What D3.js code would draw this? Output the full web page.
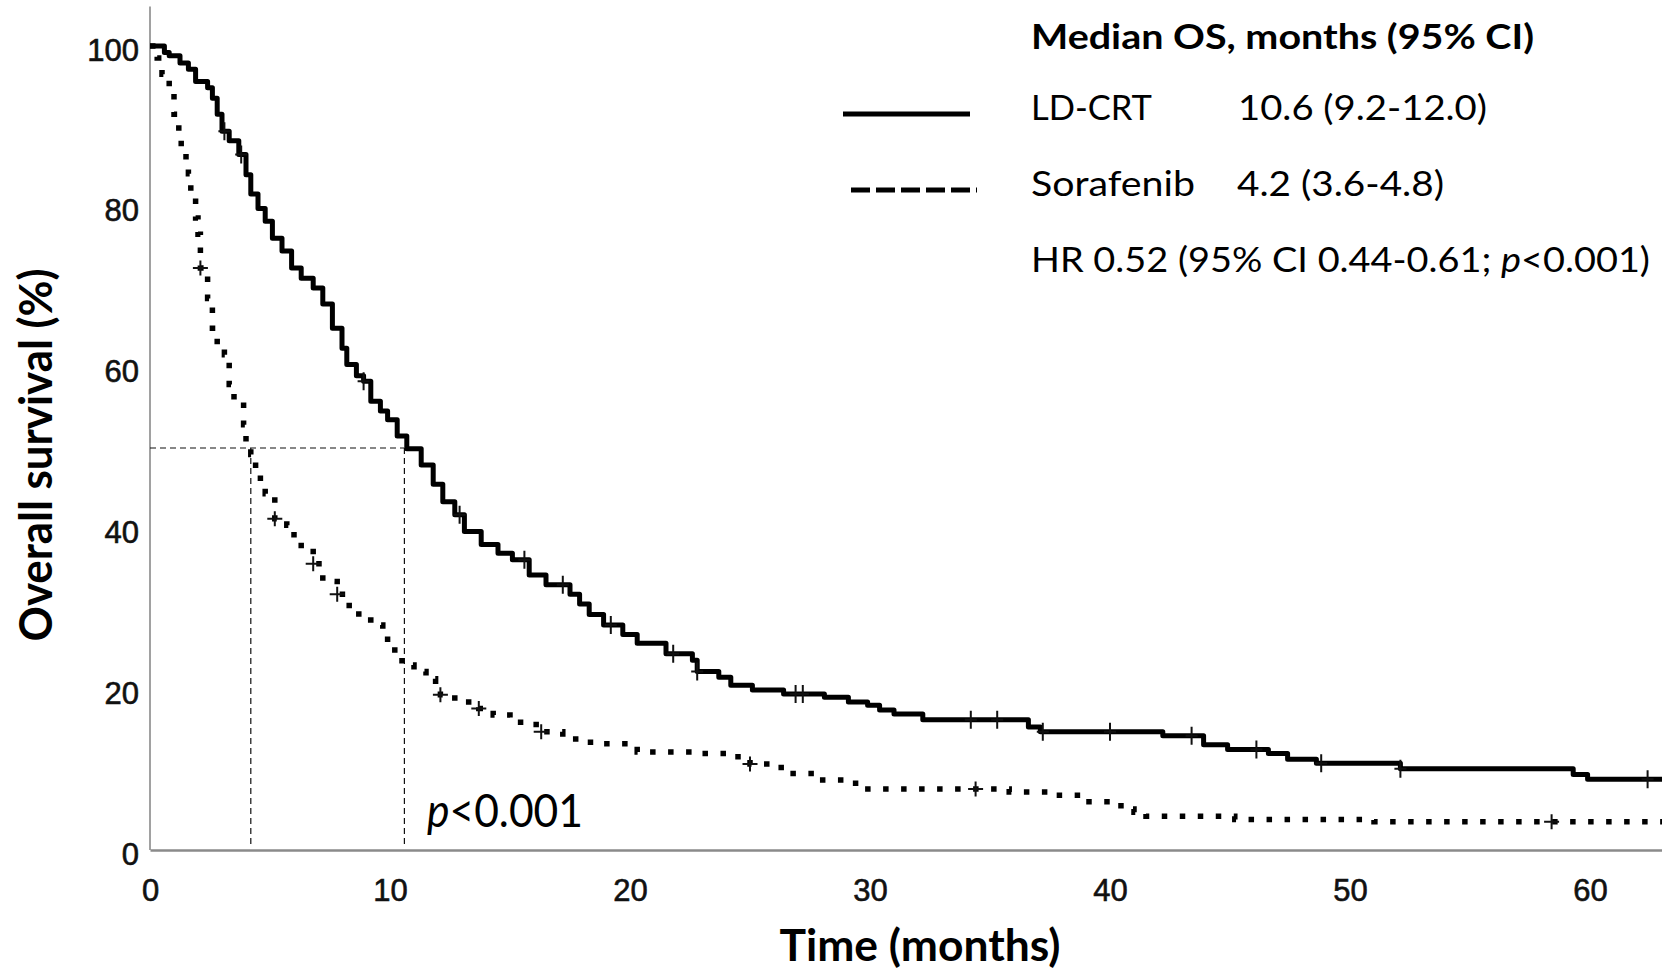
<!DOCTYPE html>
<html>
<head>
<meta charset="utf-8">
<script src="https://cdn.jsdelivr.net/npm/d3@7"></script>
<style>
  body { margin: 0; background: #fff; }
  svg { display: block; }
</style>
</head>
<body>
<div id="chart"></div>
<script>
// Kaplan-Meier steps (time in months, survival in %)
var ldcrtTime = [0, 0.6, 0.8, 1.25, 1.6, 1.9, 2.4, 2.6, 2.8, 3.0, 3.3, 3.7, 4.0, 4.2, 4.5, 4.8, 5.1, 5.5, 5.9, 6.3,
  6.8, 7.2, 7.6, 8.0, 8.2, 8.6, 8.9, 9.2, 9.6, 9.9, 10.3, 10.7, 11.3, 11.8, 12.2, 12.7, 13.1, 13.8, 14.5, 15.1,
  15.8, 16.5, 17.5, 17.9, 18.3, 18.9, 19.7, 20.3, 21.5, 22.6, 22.8, 23.7, 24.2, 25.1, 26.4, 28.1, 29.1, 29.9, 30.4, 31.0,
  32.2, 36.6, 37.1, 42.2, 43.9, 44.9, 46.6, 47.4, 48.6, 52.1, 59.3, 59.9, 63];
var ldcrtSurv = [100, 99.2, 98.8, 97.9, 97.1, 95.6, 94.8, 93.5, 91.5, 89.4, 88.2, 86.5, 84.0, 81.6, 79.8, 78.2, 76.1, 74.5, 72.4, 71.1,
  69.9, 67.9, 64.9, 62.4, 60.4, 59.0, 58.3, 55.8, 54.6, 53.5, 51.5, 49.9, 47.9, 45.5, 43.3, 41.7, 39.6, 38.0, 36.9, 36.1,
  34.2, 33.0, 31.8, 30.6, 29.3, 28.0, 26.8, 25.7, 24.4, 23.6, 22.2, 21.5, 20.5, 19.9, 19.4, 19.0, 18.4, 18.0, 17.4, 16.9,
  16.2, 15.3, 14.7, 14.2, 13.1, 12.5, 12.0, 11.3, 10.8, 10.1, 9.4, 8.8, 8.8];

var soraTime = [0, 0.3, 0.5, 0.8, 1.0, 1.2, 1.3, 1.5, 1.6, 1.7, 1.9, 2.0, 2.1, 2.4, 2.6, 2.8, 3.1, 3.3, 3.5, 3.9,
  4.0, 4.2, 4.4, 4.6, 4.8, 5.2, 5.7, 6.0, 6.3, 6.8, 7.2, 7.8, 8.3, 8.7, 9.2, 9.7, 9.9, 10.2, 10.5, 11.0,
  11.5, 11.9, 12.1, 12.7, 13.7, 14.3, 15.0, 15.6, 16.3, 17.2, 18.2, 18.6, 20.3, 23.0, 24.0, 25.0, 26.3, 27.8, 29.4, 35.8,
  37.4, 39.0, 40.0, 40.6, 41.0, 41.5, 45.2, 51.0, 63];
var soraSurv = [100, 98.5, 96.5, 94.8, 91.5, 89.4, 87.3, 85.7, 84.1, 81.6, 78.6, 76.6, 72.4, 68.6, 64.9, 62.8, 61.6, 57.9, 55.8, 52.9,
  50.8, 49.2, 47.4, 45.8, 44.3, 41.2, 40.4, 38.7, 37.5, 35.6, 33.4, 31.8, 30.0, 28.6, 28.0, 27.4, 25.7, 24.4, 23.0, 22.2,
  21.3, 20.0, 19.3, 18.4, 17.6, 16.8, 15.9, 15.6, 14.7, 13.8, 13.4, 13.2, 12.2, 12.0, 11.6, 10.7, 9.5, 8.7, 7.6, 7.2,
  6.8, 6.0, 5.5, 5.1, 4.7, 4.2, 3.8, 3.5, 3.5];

// censored observations (months)
var ldcrtCensor = [3.1, 3.8, 8.9, 12.9, 15.6, 17.2, 19.2, 21.8, 22.8, 26.9, 27.2, 34.2, 35.3, 37.2, 40.0, 43.4, 46.1, 48.8, 52.1, 62.4];
var soraCensor = [2.1, 5.2, 6.8, 7.8, 12.1, 13.7, 16.3, 25.0, 34.4, 58.4];

var medianOS = [10.6, 4.2];
var xTicks = [0, 10, 20, 30, 40, 50, 60];
var yTicks = [0, 20, 40, 60, 80, 100];

var W = 1662, H = 974;

var x = d3.scaleLinear().domain([0, 63]).range([150, 150 + 63 * 24]);
var y = d3.scaleLinear().domain([0, 100]).range([850, 46]);

var svg = d3.select("#chart").append("svg")
  .attr("width", W)
  .attr("height", H);

// axes (SPSS style, no tick marks, grey frame lines)
var xAxis = svg.append("g")
  .attr("transform", "translate(0," + y(0) + ")")
  .call(d3.axisBottom(x).tickValues(xTicks).tickSize(0).tickPadding(0));
xAxis.select(".domain").attr("stroke", "#8a8a8a").attr("stroke-width", 2.4);
xAxis.selectAll("text")
  .attr("y", 51)
  .attr("dy", 0)
  .style("font-family", "'Liberation Sans', Arial, sans-serif")
  .style("font-size", "31px")
  .attr("fill", "#111")
  .attr("stroke", "#111")
  .attr("stroke-width", 0.6);

var yAxis = svg.append("g")
  .attr("transform", "translate(" + x(0) + ",0)")
  .call(d3.axisLeft(y).tickValues(yTicks).tickSize(0).tickPadding(11));
yAxis.select(".domain").remove();
yAxis.selectAll("text")
  .attr("dy", 14)
  .style("font-family", "'Liberation Sans', Arial, sans-serif")
  .style("font-size", "31px")
  .attr("fill", "#111")
  .attr("stroke", "#111")
  .attr("stroke-width", 0.6);
svg.append("line")
  .attr("x1", x(0)).attr("x2", x(0))
  .attr("y1", y(0)).attr("y2", y(104.9))
  .attr("stroke", "#8a8a8a")
  .attr("stroke-width", 1.6);

// median reference lines
var medLine = svg.append("g")
  .attr("fill", "none")
  .attr("stroke", "#111")
  .attr("stroke-width", 1.2)
  .attr("stroke-dasharray", "6,4");
medLine.append("line")
  .attr("x1", x(0)).attr("x2", x(medianOS[0]))
  .attr("y1", y(50)).attr("y2", y(50));
medianOS.forEach(function(m) {
  medLine.append("line")
    .attr("x1", x(m)).attr("x2", x(m))
    .attr("y1", y(50)).attr("y2", y(0) - 5);
});

function zip(t, s) {
  return t.map(function(d, i) { return [d, s[i]]; });
}
function survAt(t, times, surv) {
  var i = d3.bisectRight(times, t) - 1;
  return surv[Math.max(0, i)];
}

var line = d3.line()
  .x(function(d) { return x(d[0]); })
  .y(function(d) { return y(d[1]); })
  .curve(d3.curveStepAfter);

svg.append("path")
  .datum(zip(soraTime, soraSurv))
  .attr("d", line)
  .attr("fill", "none")
  .attr("stroke", "#000")
  .attr("stroke-width", 5.5)
  .attr("stroke-dasharray", "5.5,12.5");

svg.append("path")
  .datum(zip(ldcrtTime, ldcrtSurv))
  .attr("d", line)
  .attr("fill", "none")
  .attr("stroke", "#000")
  .attr("stroke-width", 5)
  .attr("stroke-linejoin", "round");

// censor marks
function drawCensor(times, srcT, srcS, h, w) {
  svg.append("g").selectAll("path")
    .data(times)
    .enter().append("path")
    .attr("d", function(t) {
      var cx = x(t), cy = y(survAt(t, srcT, srcS));
      return "M" + cx + "," + (cy - h / 2) + "V" + (cy + h / 2) +
        "M" + (cx - w / 2) + "," + cy + "H" + (cx + w / 2);
    })
    .attr("stroke", "#111")
    .attr("stroke-width", 2)
    .attr("fill", "none");
}
drawCensor(ldcrtCensor, ldcrtTime, ldcrtSurv, 18, 12);
drawCensor(soraCensor, soraTime, soraSurv, 15, 15);

// p value in plot
var pText = svg.append("text")
  .attr("x", 427).attr("y", 827)
  .attr("textLength", 156)
  .attr("lengthAdjust", "spacingAndGlyphs")
  .style("font-family", "Lato, 'Open Sans', sans-serif")
  .style("font-size", "46px")
  .attr("fill", "#000");
pText.append("tspan").style("font-style", "italic").text("p");
pText.append("tspan").text("<0.001");

// legend
var lg = svg.append("g")
  .style("font-family", "Lato, 'Open Sans', sans-serif")
  .style("font-size", "35px")
  .attr("fill", "#000");

function legText(tx, ty, str, len, bold) {
  return lg.append("text")
    .attr("x", tx).attr("y", ty)
    .attr("textLength", len)
    .attr("lengthAdjust", "spacingAndGlyphs")
    .style("font-weight", bold ? "bold" : "normal")
    .text(str);
}
legText(1031, 49, "Median OS, months (95% CI)", 503, true);
legText(1031, 120, "LD-CRT", 121);
legText(1238, 120, "10.6 (9.2-12.0)", 249);
legText(1031, 196, "Sorafenib", 164);
legText(1237, 196, "4.2 (3.6-4.8)", 207);
var hr = lg.append("text")
  .attr("x", 1031).attr("y", 272)
  .attr("textLength", 619)
  .attr("lengthAdjust", "spacingAndGlyphs");
hr.append("tspan").text("HR 0.52 (95% CI 0.44-0.61; ");
hr.append("tspan").style("font-style", "italic").text("p");
hr.append("tspan").text("<0.001)");

lg.append("line")
  .attr("x1", 843).attr("x2", 970)
  .attr("y1", 114).attr("y2", 114)
  .attr("stroke", "#000").attr("stroke-width", 5);
lg.append("line")
  .attr("x1", 851).attr("x2", 977)
  .attr("y1", 190).attr("y2", 190)
  .attr("stroke", "#000").attr("stroke-width", 5)
  .attr("stroke-dasharray", "19,6");

// axis titles
svg.append("text")
  .attr("x", 920).attr("y", 961)
  .attr("text-anchor", "middle")
  .attr("textLength", 281)
  .attr("lengthAdjust", "spacingAndGlyphs")
  .style("font-family", "Lato, 'Open Sans', sans-serif")
  .style("font-size", "43px")
  .style("font-weight", "bold")
  .text("Time (months)");

svg.append("text")
  .attr("transform", "translate(52,455) rotate(-90)")
  .attr("text-anchor", "middle")
  .attr("textLength", 373)
  .attr("lengthAdjust", "spacingAndGlyphs")
  .style("font-family", "Lato, 'Open Sans', sans-serif")
  .style("font-size", "45px")
  .style("font-weight", "bold")
  .text("Overall survival (%)");
</script>
</body>
</html>
